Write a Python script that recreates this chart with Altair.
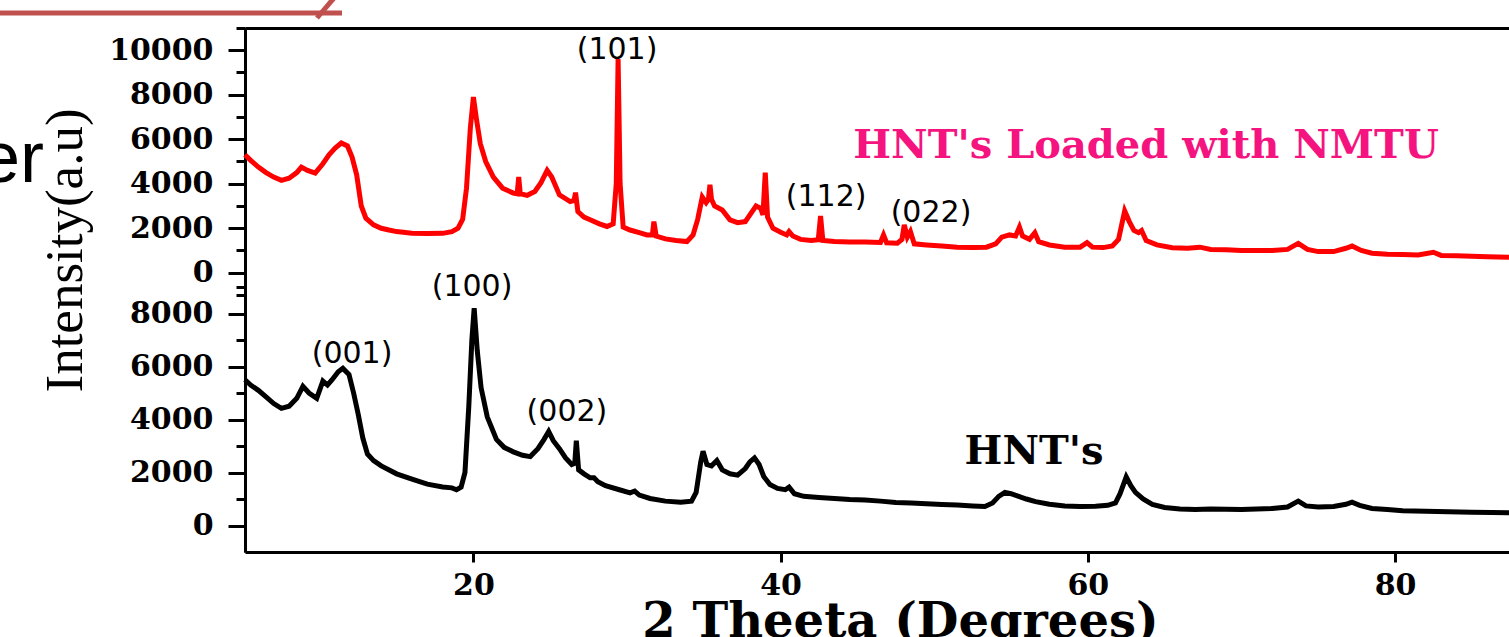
import altair as alt
import pandas as pd

# ---------------- data ----------------
red_theta = [5.13, 5.5, 6.0, 6.5, 7.0, 7.5, 8.0, 8.5, 8.8, 9.2, 9.7, 10.2, 10.6, 11.0, 11.4, 11.8,
             12.1, 12.4, 12.7, 13.0, 13.5, 14.0, 14.5, 15.0, 16.0, 17.0, 18.0, 18.6, 19.0, 19.3,
             19.55, 19.8, 20.0, 20.2, 20.45, 20.8, 21.3, 21.9, 22.6, 22.85, 22.95, 23.05, 23.5,
             24.0, 24.4, 24.8, 25.1, 25.6, 26.3, 26.55, 26.65, 26.8, 27.2, 27.6, 28.2, 28.7, 29.1,
             29.3, 29.42, 29.55, 29.75, 30.2, 30.8, 31.3, 31.65, 31.75, 31.9, 32.5, 33.2, 33.9,
             34.3, 34.6, 34.9, 35.15, 35.3, 35.4, 35.5, 35.7, 36.2, 36.7, 37.2, 37.7, 38.1, 38.4,
             38.7, 38.85, 39.0, 39.15, 39.5, 40.0, 40.4, 40.55, 40.8, 41.3, 42.0, 42.45, 42.6,
             42.75, 43.5, 44.5, 45.5, 46.5, 46.7, 46.9, 47.6, 47.9, 48.05, 48.25, 48.45, 48.7,
             49.5, 50.5, 51.5, 52.5, 53.4, 54.0, 54.4, 54.9, 55.3, 55.55, 55.75, 56.2, 56.55,
             56.8, 57.5, 58.5, 59.5, 59.95, 60.3, 61.0, 61.6, 62.0, 62.4, 62.7, 63.0, 63.3, 63.5,
             63.8, 64.5, 65.5, 66.5, 67.3, 68.0, 69.0, 70.0, 71.0, 72.0, 73.0, 73.7, 74.3, 75.0,
             76.0, 76.8, 77.2, 77.8, 78.5, 79.5, 80.5, 81.5, 82.5, 83.0, 84.0, 85.0, 86.0, 87.42]
red_intensity = [5300, 5050, 4750, 4500, 4300, 4150, 4250, 4500, 4750, 4600, 4480, 4900, 5300,
                 5600, 5830, 5700, 5200, 4400, 3000, 2450, 2150, 2000, 1920, 1850, 1780, 1760,
                 1770, 1850, 2000, 2400, 3800, 6500, 7900, 6900, 5800, 5000, 4300, 3800, 3580,
                 3550, 4300, 3550, 3480, 3650, 4050, 4600, 4300, 3500, 3200, 3250, 3600, 2750,
                 2500, 2380, 2200, 2080, 2200, 4000, 9600, 4000, 2050, 1920, 1800, 1700, 1700,
                 2300, 1650, 1520, 1450, 1400, 1700, 2400, 3400, 3150, 3300, 3950, 3300, 3000,
                 2820, 2380, 2250, 2300, 2700, 3000, 2900, 2600, 4500, 2500, 2000, 1820, 1700,
                 1850, 1650, 1500, 1450, 1480, 2550, 1450, 1400, 1380, 1380, 1360, 1700, 1350,
                 1330, 1500, 2150, 1600, 1850, 1300, 1250, 1200, 1150, 1130, 1150, 1300, 1600,
                 1700, 1650, 2050, 1650, 1500, 1800, 1400, 1250, 1150, 1150, 1350, 1150, 1130,
                 1200, 1500, 2780, 2300, 1900, 1800, 1900, 1450, 1250, 1120, 1100, 1150, 1050,
                 1030, 1000, 1000, 1000, 1050, 1320, 1050, 950, 950, 1100, 1200, 1000, 880, 830,
                 820, 800, 920, 780, 760, 740, 720, 700]

black_theta = [5.13, 5.5, 6.0, 6.5, 7.0, 7.5, 8.0, 8.5, 8.9, 9.3, 9.8, 10.2, 10.5, 10.8, 11.2,
               11.5, 11.9, 12.2, 12.5, 12.8, 13.1, 13.5, 14.0, 15.0, 16.0, 17.0, 18.0, 18.6,
               18.9, 19.2, 19.45, 19.7, 19.9, 20.05, 20.25, 20.5, 20.9, 21.5, 22.0, 22.6, 23.2,
               23.7, 24.2, 24.6, 24.9, 25.2, 25.6, 26.0, 26.4, 26.6, 26.7, 26.85, 27.2, 27.6,
               27.85, 28.1, 28.6, 29.5, 30.2, 30.5, 30.8, 31.5, 32.5, 33.5, 34.2, 34.5, 34.8,
               34.95, 35.2, 35.5, 35.85, 36.2, 36.7, 37.2, 37.7, 38.0, 38.3, 38.6, 38.9, 39.3,
               39.8, 40.3, 40.55, 40.9, 41.5, 42.5, 43.5, 44.5, 45.5, 46.5, 47.5, 48.5, 49.5,
               50.5, 51.5, 52.5, 53.3, 53.8, 54.2, 54.6, 55.0, 55.5, 56.0, 56.6, 57.5, 58.5,
               59.5, 60.5, 61.3, 61.8, 62.1, 62.5, 62.8, 63.1, 63.6, 64.2, 65.0, 66.0, 67.0,
               68.0, 69.0, 70.0, 71.0, 72.0, 73.0, 73.7, 74.2, 75.0, 76.0, 76.8, 77.2, 77.7,
               78.5, 79.5, 80.5, 82.0, 83.5, 85.0, 86.3, 87.42]
black_intensity = [5500, 5300, 5100, 4850, 4600, 4420, 4500, 4800, 5250, 5000, 4800, 5450, 5300,
                   5500, 5800, 5930, 5700, 5000, 4200, 3300, 2700, 2450, 2250, 1950, 1750, 1560,
                   1450, 1420, 1350, 1450, 2000, 4500, 7000, 8200, 6600, 5200, 4100, 3250, 2950,
                   2780, 2650, 2600, 2900, 3250, 3550, 3200, 2900, 2550, 2300, 2350, 3200, 2100,
                   1950, 1800, 1800, 1650, 1500, 1350, 1230, 1300, 1150, 1020, 920, 880, 920,
                   1250, 2400, 2800, 2300, 2250, 2450, 2100, 1950, 1900, 2150, 2400, 2550, 2300,
                   1850, 1550, 1400, 1350, 1450, 1200, 1100, 1060, 1020, 980, 960, 920, 870, 850,
                   820, 790, 770, 740, 720, 850, 1100, 1250, 1200, 1100, 1000, 900, 800, 740, 720,
                   730, 760, 850, 1200, 1830, 1500, 1250, 1000, 800, 680, 620, 600, 620, 610, 600,
                   620, 640, 700, 920, 740, 700, 720, 800, 880, 760, 640, 600, 560, 540, 520, 500,
                   490, 480]

top_label_text = ["(101)", "(112)", "(022)"]
top_label_theta = [29.35, 42.96, 49.79]
top_label_intensity = [10000, 3400, 2680]

bottom_label_text = ["(001)", "(100)", "(002)"]
bottom_label_theta = [12.10, 19.91, 26.09]
bottom_label_intensity = [6470, 9000, 4280]

top_name = ["HNT's Loaded with NMTU"]
top_name_theta = [63.79]
top_name_intensity = [5690]

bottom_name = ["HNT's"]
bottom_name_theta = [56.50]
bottom_name_intensity = [2770]

x_ticks = [20, 40, 60, 80]
top_major = [0, 2000, 4000, 6000, 8000, 10000]
top_minor = [-1000, 1000, 3000, 5000, 7000, 9000, 11000]
bottom_major = [0, 2000, 4000, 6000, 8000]
bottom_minor = [1000, 3000, 5000, 7000, 9000]

X_DOMAIN = [5.13, 87.42]
TOP_DOMAIN = [-12551, 11000]
BOTTOM_DOMAIN = [-1000, 18774]

# ---------------- frames ----------------
red_df = pd.DataFrame({"theta": red_theta, "intensity": red_intensity})
black_df = pd.DataFrame({"theta": black_theta, "intensity": black_intensity})
top_lab_df = pd.DataFrame({"label": top_label_text, "theta": top_label_theta,
                           "intensity": top_label_intensity})
bot_lab_df = pd.DataFrame({"label": bottom_label_text, "theta": bottom_label_theta,
                           "intensity": bottom_label_intensity})
top_name_df = pd.DataFrame({"label": top_name, "theta": top_name_theta,
                            "intensity": top_name_intensity})
bot_name_df = pd.DataFrame({"label": bottom_name, "theta": bottom_name_theta,
                            "intensity": bottom_name_intensity})
deco_df = pd.DataFrame({"k": [0]})

SERIF = "DejaVu Serif"
xscale = alt.Scale(domain=X_DOMAIN, nice=False, zero=False)
top_scale = alt.Scale(domain=TOP_DOMAIN, nice=False, zero=False)
bot_scale = alt.Scale(domain=BOTTOM_DOMAIN, nice=False, zero=False)

common_axis = dict(grid=False, domainColor="black", domainWidth=3, tickColor="black",
                   tickWidth=3, labelColor="black", labelFont=SERIF, labelFontWeight="bold",
                   labelFontSize=30, labelOverlap=False, labelFlush=False)

x_main_axis = alt.Axis(orient="bottom", values=x_ticks, format="d", tickSize=10,
                       labelPadding=8, title="2 Theeta (Degrees)", titleFont=SERIF,
                       titleFontWeight="bold", titleFontSize=48, titleColor="black",
                       titleX=655, titleY=84, titleAlign="center",
                       titleBaseline="alphabetic", **common_axis)
x_top_axis = alt.Axis(orient="top", labels=False, ticks=False, domain=True, domainWidth=3,
                      domainColor="black", title=None, grid=False)

y_top_major = alt.Axis(orient="left", values=top_major, format="d", tickSize=17,
                       labelPadding=15, title="Intensity(a.u)", titleFont="Liberation Serif",
                       titleFontWeight="normal", titleFontSize=53, titleColor="black",
                       titleX=-180, titleY=222, titleAlign="center", titleBaseline="middle",
                       titleAngle=270, **common_axis)
y_top_minor = alt.Axis(orient="left", values=top_minor, labels=False, domain=False,
                       tickSize=9, tickWidth=3, tickColor="black", title=None, grid=False)
y_bot_major = alt.Axis(orient="left", values=bottom_major, format="d", tickSize=17,
                       labelPadding=15, title=None, **common_axis)
y_bot_minor = alt.Axis(orient="left", values=bottom_minor, labels=False, domain=False,
                       tickSize=9, tickWidth=3, tickColor="black", title=None, grid=False)

red_line = alt.Chart(red_df).mark_line(color="#FF0000", strokeWidth=5).encode(
    x=alt.X("theta:Q", scale=xscale, axis=x_main_axis),
    y=alt.Y("intensity:Q", scale=top_scale, axis=y_top_major),
)
red_minor = alt.Chart(red_df).mark_line(strokeOpacity=0).encode(
    x=alt.X("theta:Q", scale=xscale, axis=x_top_axis),
    y=alt.Y("intensity:Q", scale=top_scale, axis=y_top_minor),
)
black_line = alt.Chart(black_df).mark_line(color="#000000", strokeWidth=5).encode(
    x=alt.X("theta:Q", scale=xscale, axis=None),
    y=alt.Y("intensity:Q", scale=bot_scale, axis=y_bot_major),
)
black_minor = alt.Chart(black_df).mark_line(strokeOpacity=0).encode(
    x=alt.X("theta:Q", scale=xscale, axis=None),
    y=alt.Y("intensity:Q", scale=bot_scale, axis=y_bot_minor),
)

hkl_style = dict(font="DejaVu Sans", fontSize=30, color="black", align="center",
                 baseline="middle")
top_labels = alt.Chart(top_lab_df).mark_text(**hkl_style).encode(
    x=alt.X("theta:Q", scale=xscale, axis=None),
    y=alt.Y("intensity:Q", scale=top_scale, axis=None),
    text="label:N",
)
bot_labels = alt.Chart(bot_lab_df).mark_text(**hkl_style).encode(
    x=alt.X("theta:Q", scale=xscale, axis=None),
    y=alt.Y("intensity:Q", scale=bot_scale, axis=None),
    text="label:N",
)
top_name_text = alt.Chart(top_name_df).mark_text(
    font=SERIF, fontWeight="bold", fontSize=40, color="#F5137F", align="center",
    baseline="middle").encode(
    x=alt.X("theta:Q", scale=xscale, axis=None),
    y=alt.Y("intensity:Q", scale=top_scale, axis=None),
    text="label:N",
)
bot_name_text = alt.Chart(bot_name_df).mark_text(
    font=SERIF, fontWeight="bold", fontSize=40, color="black", align="center",
    baseline="middle").encode(
    x=alt.X("theta:Q", scale=xscale, axis=None),
    y=alt.Y("intensity:Q", scale=bot_scale, axis=None),
    text="label:N",
)

# slide fragments around the figure (cut by the frame edges)
underline = alt.Chart(deco_df).mark_rule(color="#C0504D", strokeWidth=5).encode(
    x=alt.value(-245), x2=alt.value(97), y=alt.value(-15))
slash = alt.Chart(deco_df).mark_rule(color="#C0504D", strokeWidth=5).encode(
    x=alt.value(72), y=alt.value(-10), x2=alt.value(89), y2=alt.value(-30))
er_text = alt.Chart(deco_df).mark_text(
    text="er", font="Liberation Sans", fontSize=72, color="black", align="right",
    baseline="alphabetic").encode(x=alt.value(-201), y=alt.value(154))

chart = alt.layer(
    red_line, red_minor, black_line, black_minor,
    top_labels, bot_labels, top_name_text, bot_name_text,
    underline, slash, er_text,
).resolve_scale(y="independent").resolve_axis(x="independent", y="independent").properties(
    width=1264, height=524,
    autosize=alt.AutoSizeParams(type="none"),
    padding={"left": 245, "top": 28, "right": 0, "bottom": 85},
    background="white",
).configure_view(stroke=None)

chart.save("out.html", embed_options={"renderer": "svg", "actions": False})
